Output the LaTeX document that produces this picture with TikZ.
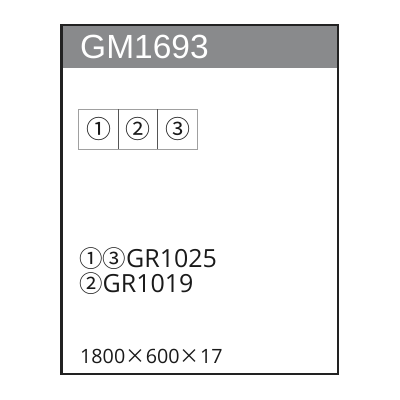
\documentclass[tikz,border=0pt]{standalone}
\usepackage{fontspec}
\setmainfont{Open Sans}
\newfontfamily\hdrfont{Liberation Sans}
\newfontfamily\cjkfont{Noto Sans CJK JP}
\definecolor{hdrgray}{HTML}{898A8C}
\definecolor{frame}{HTML}{222222}
\definecolor{boxgray}{HTML}{A0A0A0}
\definecolor{divgray}{HTML}{555555}
\definecolor{txt}{HTML}{1A1A1A}
\newcommand{\mytimes}{\makebox[20.5pt]{\cjkfont\fontsize{20}{20}\selectfont ×}}
\newcommand{\circd}[1]{{\cjkfont\fontsize{23.5}{23.5}\selectfont #1}}
\tikzset{
  cellnum/.style={font=\cjkfont\fontsize{25}{25}\selectfont, text=txt, inner sep=0pt},
  partline/.style={anchor=base west, inner sep=0pt, font=\fontsize{25}{25}\selectfont, text=txt},
}
\begin{document}
\begin{tikzpicture}[x=1pt,y=-1pt]
\useasboundingbox (0,0) rectangle (400,400);
\fill[white] (0,0) rectangle (400,400);
% header band
\fill[hdrgray] (61.5,25) rectangle (338,68);
\node[anchor=base west, inner sep=0pt, text=white, font=\hdrfont\fontsize{33.5}{33.5}\selectfont] (title) at (80,58) {GM1693};
% frame
\draw[frame, line width=2.7pt] (61.5,25) rectangle (338,374) coordinate (frameBR);
% boxes
\node[draw=boxgray, line width=1pt, minimum width=119pt, minimum height=40pt, inner sep=0pt] (boxes) at (137.7,129) {};
\draw[divgray, line width=0.8pt] (118.7,109) -- (118.7,149);
\draw[divgray, line width=0.8pt] (157.7,109) -- (157.7,149);
\node[cellnum] (c1) at (98.5,129) {①};
\node[cellnum] (c2) at (138,129) {②};
\node[cellnum] (c3) at (177.5,129) {③};
% parts
\node[partline] (p1) at (79,267) {\circd{①③}GR1025};
\node[partline] (p2) at (79,292) {\circd{②}GR1019};
% size
\node[anchor=base west, inner sep=0pt, text=txt, font=\fontsize{19.7}{19.7}\selectfont] (size) at (80,363) {1800\mytimes600\mytimes17};
\end{tikzpicture}
\end{document}
